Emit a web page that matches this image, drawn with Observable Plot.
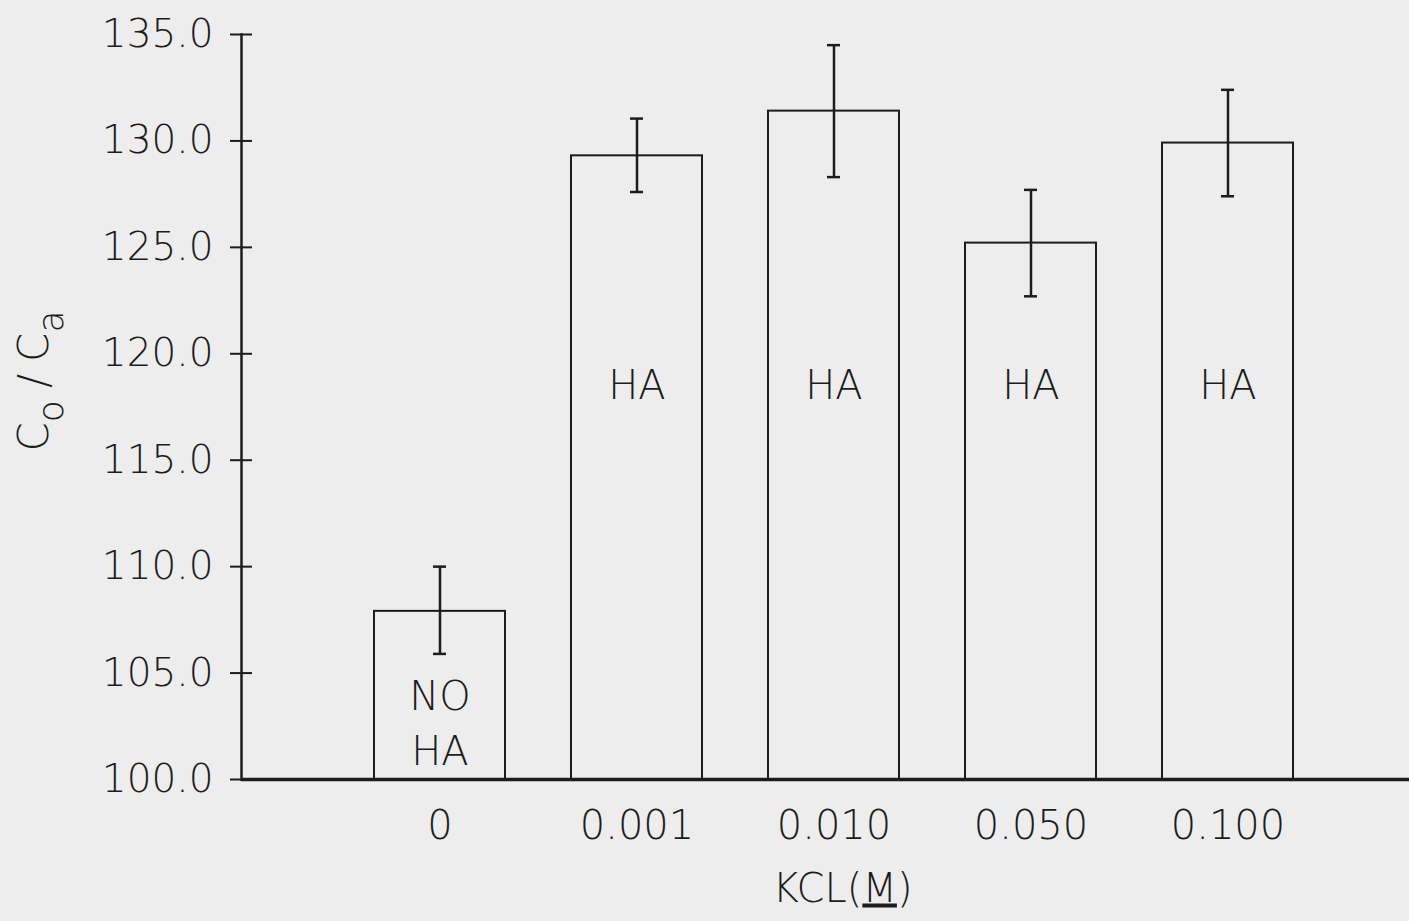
<!DOCTYPE html>
<html><head><meta charset="utf-8">
<script src="https://cdn.jsdelivr.net/npm/d3@7"></script>
<script src="https://cdn.jsdelivr.net/npm/@observablehq/plot@0.6"></script>
<style>
html,body{margin:0;padding:0;background:#ededed;}
#chart svg{display:block;}
</style></head><body><div id="chart"></div>
<script>
// Data
const categories = ["0", "0.001", "0.010", "0.050", "0.100"];
const means      = [107.9, 129.3, 131.4, 125.2, 129.9];
const errLow     = [105.9, 127.6, 128.3, 122.7, 127.4];
const errHigh    = [110.0, 131.05, 134.5, 127.7, 132.4];
const barLabels  = ["NO\nHA", "HA", "HA", "HA", "HA"];
const yTicks     = [100, 105, 110, 115, 120, 125, 130, 135];
const yTitle     = "Co/Ca";
const xTitle     = "KCL(M)";

const data = categories.map((c, i) => ({cat: c, mean: means[i], lo: errLow[i], hi: errHigh[i], label: barLabels[i]}));

const FONT = "'DejaVu Sans', sans-serif";
const INK = "#1c1c1c";
const HA_Y = 118.7, NOHA_Y = 102.8;

const chart = Plot.plot({
  width: 1409,
  height: 921,
  marginTop: 34,
  marginBottom: 142,
  marginLeft: 241,
  marginRight: 0,
  style: {background: "#ededed", fontFamily: FONT, color: INK, fontWeight: 200},
  x: {type: "band", domain: categories, paddingInner: 0.333, paddingOuter: 0.616, align: 0.537, label: null},
  y: {domain: [100, 135], label: null},
  marks: [
    Plot.barY(data, {x: "cat", y1: 100, y2: "mean", fill: "none", stroke: INK, strokeWidth: 2}),
    Plot.ruleX(data, {x: "cat", y1: "lo", y2: "hi", stroke: INK, strokeWidth: 2.5}),
    Plot.tickY(data, {x: "cat", y: "lo", stroke: INK, strokeWidth: 2.5, insetLeft: 59, insetRight: 59}),
    Plot.tickY(data, {x: "cat", y: "hi", stroke: INK, strokeWidth: 2.5, insetLeft: 59, insetRight: 59}),
    Plot.text(data, {x: "cat", y: d => d.label.includes("\n") ? NOHA_Y : HA_Y, text: "label", fontSize: 40, lineHeight: 1.38, fill: INK}),
    Plot.axisY(yTicks, {anchor: "left", tickSize: 22, dx: 11, tickPadding: 17, tickFormat: d => d.toFixed(1), fontSize: 39, stroke: INK, strokeWidth: 2}),
    Plot.axisX({tickSize: 0, tickPadding: 31, fontSize: 40}),
    Plot.frame({anchor: "left", stroke: INK, strokeWidth: 2.5}),
    Plot.ruleY([100], {stroke: INK, strokeWidth: 3.5}),
    Plot.text([yTitle], {frameAnchor: "left", textAnchor: "middle", dx: -207, dy: -26, rotate: -90, fontSize: 42, fill: INK}),
    Plot.text([xTitle], {frameAnchor: "bottom", textAnchor: "middle", dx: 17, dy: 122, fontSize: 40, fill: INK})
  ]
});

document.getElementById("chart").append(chart);

const svg = d3.select(chart);
// Subscripts for the y title
svg.selectAll("text").filter(function() { return this.textContent === yTitle; }).each(function() {
  const t = d3.select(this);
  t.text(null);
  t.append("tspan").text("C");
  t.append("tspan").attr("font-size", 36).attr("dy", 15).text("o");
  t.append("tspan").attr("dy", -15).attr("dx", 12).text("/");
  t.append("tspan").attr("dx", 12).text("C");
  t.append("tspan").attr("font-size", 36).attr("dy", 15).text("a");
});
// Underlined M in the x title
svg.selectAll("text").filter(function() { return this.textContent === xTitle; }).each(function() {
  const t = d3.select(this);
  t.text(null);
  t.append("tspan").text("KCL(");
  t.append("tspan").style("text-decoration", "underline").style("text-decoration-thickness", "4px").text("M");
  t.append("tspan").text(")");
});
</script>
</body></html>
